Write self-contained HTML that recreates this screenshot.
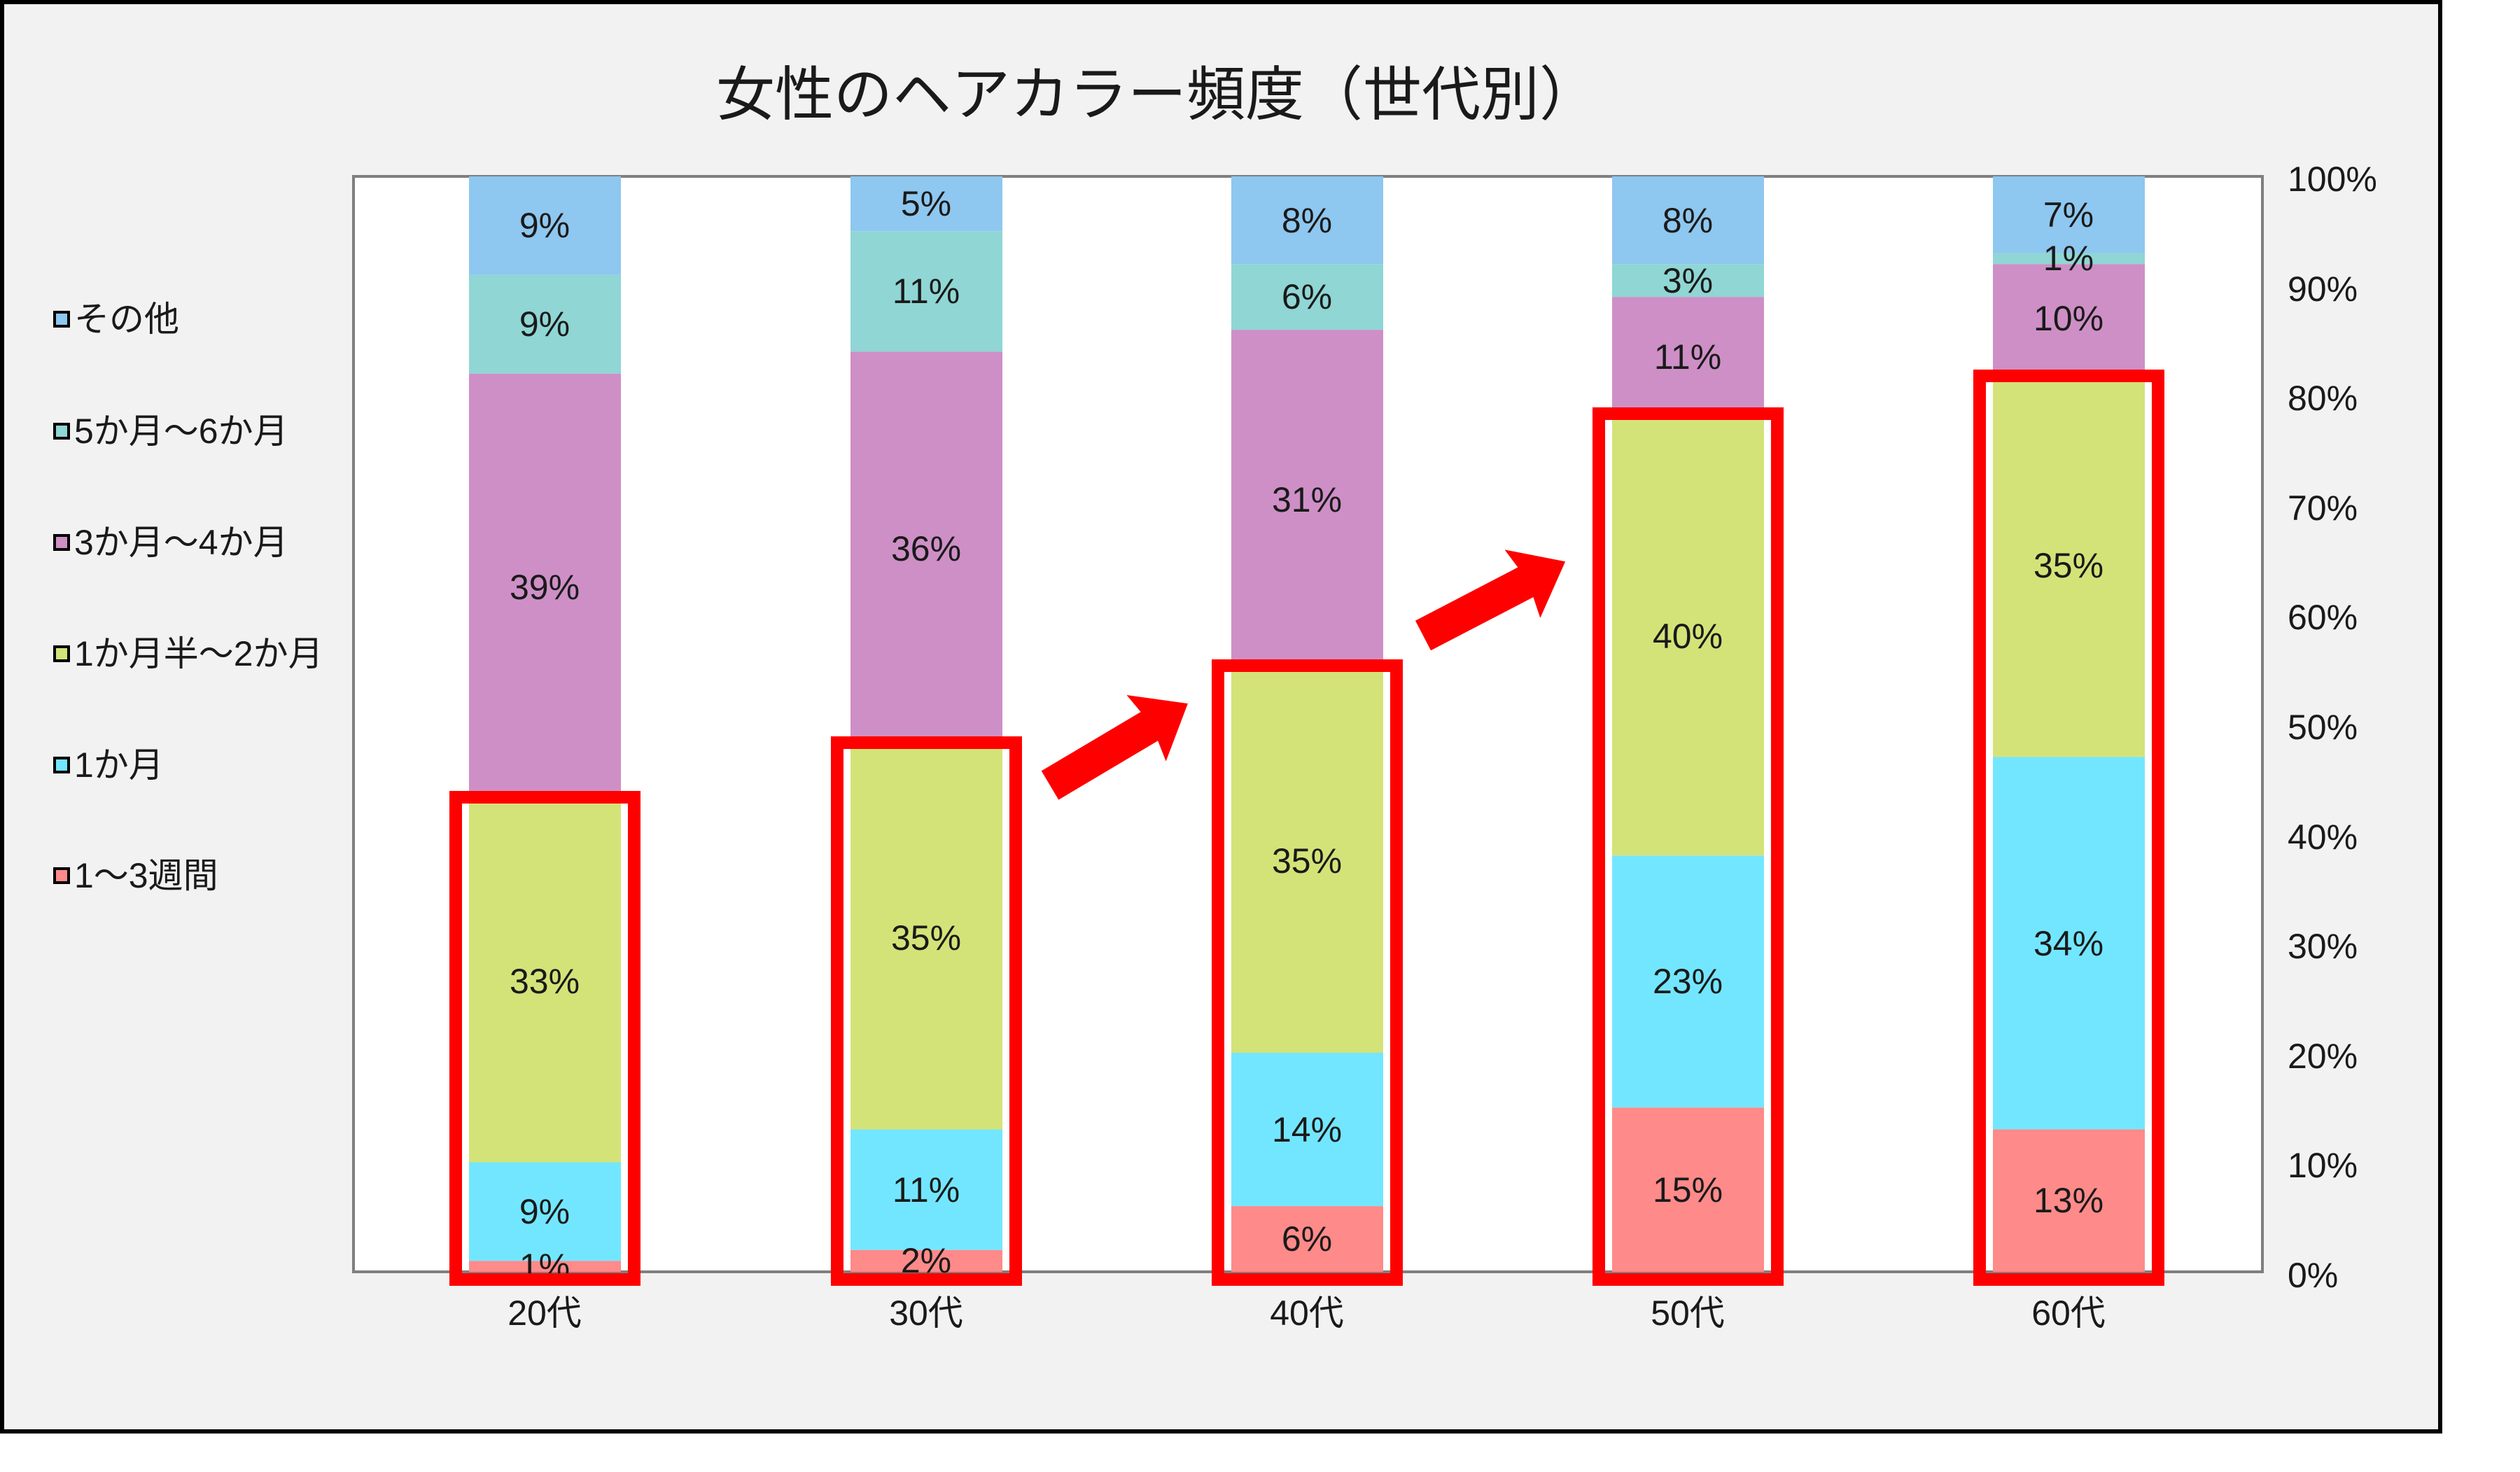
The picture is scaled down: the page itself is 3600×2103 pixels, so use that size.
<!DOCTYPE html>
<html><head><meta charset="utf-8">
<style>
html,body{margin:0;padding:0;background:#fff;}
svg{display:block;}
text{font-family:"Liberation Sans","Noto Sans CJK JP",sans-serif;fill:#1a1a1a;}
</style></head>
<body>
<svg width="3600" height="2103" viewBox="0 0 3600 2103" xmlns="http://www.w3.org/2000/svg">
<rect x="3" y="3" width="3483" height="2042" fill="#F2F2F2" stroke="#000" stroke-width="6"/>
<text x="1653" y="135" font-size="84" text-anchor="middle" dominant-baseline="central">女性のヘアカラー頻度（世代別）</text>
<rect x="505" y="252" width="2727" height="1565" fill="#fff" stroke="#7f7f7f" stroke-width="4"/>

<!-- 20代 -->
<g>
<rect x="670" y="1801.35" width="217" height="15.65" fill="#FF8A8A"/>
<rect x="670" y="1660.5" width="217" height="140.85" fill="#73E6FF"/>
<rect x="670" y="1144.05" width="217" height="516.45" fill="#D4E378"/>
<rect x="670" y="533.7" width="217" height="610.35" fill="#CE8FC6"/>
<rect x="670" y="392.85" width="217" height="140.85" fill="#8FD6D4"/>
<rect x="670" y="252" width="217" height="140.85" fill="#8EC7EF"/>
</g>
<!-- 30代 -->
<g>
<rect x="1215" y="1785.7" width="217" height="31.3" fill="#FF8A8A"/>
<rect x="1215" y="1613.55" width="217" height="172.15" fill="#73E6FF"/>
<rect x="1215" y="1065.8" width="217" height="547.75" fill="#D4E378"/>
<rect x="1215" y="502.4" width="217" height="563.4" fill="#CE8FC6"/>
<rect x="1215" y="330.25" width="217" height="172.15" fill="#8FD6D4"/>
<rect x="1215" y="252" width="217" height="78.25" fill="#8EC7EF"/>
</g>
<!-- 40代 -->
<g>
<rect x="1759" y="1723.1" width="217" height="93.9" fill="#FF8A8A"/>
<rect x="1759" y="1504" width="217" height="219.1" fill="#73E6FF"/>
<rect x="1759" y="956.25" width="217" height="547.75" fill="#D4E378"/>
<rect x="1759" y="471.1" width="217" height="485.15" fill="#CE8FC6"/>
<rect x="1759" y="377.2" width="217" height="93.9" fill="#8FD6D4"/>
<rect x="1759" y="252" width="217" height="125.2" fill="#8EC7EF"/>
</g>
<!-- 50代 -->
<g>
<rect x="2303" y="1582.25" width="217" height="234.75" fill="#FF8A8A"/>
<rect x="2303" y="1222.3" width="217" height="359.95" fill="#73E6FF"/>
<rect x="2303" y="596.3" width="217" height="626" fill="#D4E378"/>
<rect x="2303" y="424.15" width="217" height="172.15" fill="#CE8FC6"/>
<rect x="2303" y="377.2" width="217" height="46.95" fill="#8FD6D4"/>
<rect x="2303" y="252" width="217" height="125.2" fill="#8EC7EF"/>
</g>
<!-- 60代 -->
<g>
<rect x="2847" y="1613.55" width="217" height="203.45" fill="#FF8A8A"/>
<rect x="2847" y="1081.45" width="217" height="532.1" fill="#73E6FF"/>
<rect x="2847" y="533.7" width="217" height="547.75" fill="#D4E378"/>
<rect x="2847" y="377.2" width="217" height="156.5" fill="#CE8FC6"/>
<rect x="2847" y="361.55" width="217" height="15.65" fill="#8FD6D4"/>
<rect x="2847" y="252" width="217" height="109.55" fill="#8EC7EF"/>
</g>

<g font-size="50" text-anchor="middle" dominant-baseline="central">
<text x="778" y="1809">1%</text><text x="778" y="1731">9%</text><text x="778" y="1402">33%</text><text x="778" y="839">39%</text><text x="778" y="463">9%</text><text x="778" y="322">9%</text>
<text x="1323" y="1801">2%</text><text x="1323" y="1700">11%</text><text x="1323" y="1340">35%</text><text x="1323" y="784">36%</text><text x="1323" y="416">11%</text><text x="1323" y="291">5%</text>
<text x="1867" y="1770">6%</text><text x="1867" y="1614">14%</text><text x="1867" y="1230">35%</text><text x="1867" y="714">31%</text><text x="1867" y="424">6%</text><text x="1867" y="315">8%</text>
<text x="2411" y="1700">15%</text><text x="2411" y="1402">23%</text><text x="2411" y="909">40%</text><text x="2411" y="510">11%</text><text x="2411" y="401">3%</text><text x="2411" y="315">8%</text>
<text x="2955" y="1715">13%</text><text x="2955" y="1348">34%</text><text x="2955" y="808">35%</text><text x="2955" y="455">10%</text><text x="2955" y="369">1%</text><text x="2955" y="307">7%</text>
</g>

<g fill="none" stroke="#FF0000" stroke-width="18">
<rect x="651" y="1139" width="255" height="689"/>
<rect x="1196" y="1061" width="255" height="767"/>
<rect x="1740" y="951" width="255" height="877"/>
<rect x="2284" y="591" width="255" height="1237"/>
<rect x="2828" y="537" width="255" height="1291"/>
</g>

<g fill="#FF0000">
<polygon transform="translate(1500,1122) rotate(-30.7)" points="0,-24 165,-24 160,-55 229,0 160,55 165,24 0,24"/>
<polygon transform="translate(2033,908) rotate(-27.5)" points="0,-24 165,-24 160,-55 229,0 160,55 165,24 0,24"/>
</g>

<g font-size="50" dominant-baseline="central">
<text x="3268" y="256">100%</text>
<text x="3268" y="413">90%</text>
<text x="3268" y="569">80%</text>
<text x="3268" y="726">70%</text>
<text x="3268" y="882">60%</text>
<text x="3268" y="1039">50%</text>
<text x="3268" y="1196">40%</text>
<text x="3268" y="1352">30%</text>
<text x="3268" y="1509">20%</text>
<text x="3268" y="1665">10%</text>
<text x="3268" y="1822">0%</text>
</g>

<g font-size="50" text-anchor="middle" dominant-baseline="central">
<text x="778" y="1876">20代</text><text x="1323" y="1876">30代</text><text x="1867" y="1876">40代</text><text x="2411" y="1876">50代</text><text x="2955" y="1876">60代</text>
</g>

<g stroke="#000" stroke-width="4">
<rect x="78" y="446" width="20" height="20" fill="#8EC7EF"/>
<rect x="78" y="606" width="20" height="20" fill="#8FD6D4"/>
<rect x="78" y="765" width="20" height="20" fill="#CE8FC6"/>
<rect x="78" y="924" width="20" height="20" fill="#D4E378"/>
<rect x="78" y="1083" width="20" height="20" fill="#73E6FF"/>
<rect x="78" y="1241" width="20" height="20" fill="#FF8A8A"/>
</g>
<g font-size="50" dominant-baseline="central">
<text x="106" y="456">その他</text>
<text x="106" y="616">5か月～6か月</text>
<text x="106" y="775">3か月～4か月</text>
<text x="106" y="934">1か月半～2か月</text>
<text x="106" y="1093">1か月</text>
<text x="106" y="1251">1～3週間</text>
</g>
</svg>
</body></html>
